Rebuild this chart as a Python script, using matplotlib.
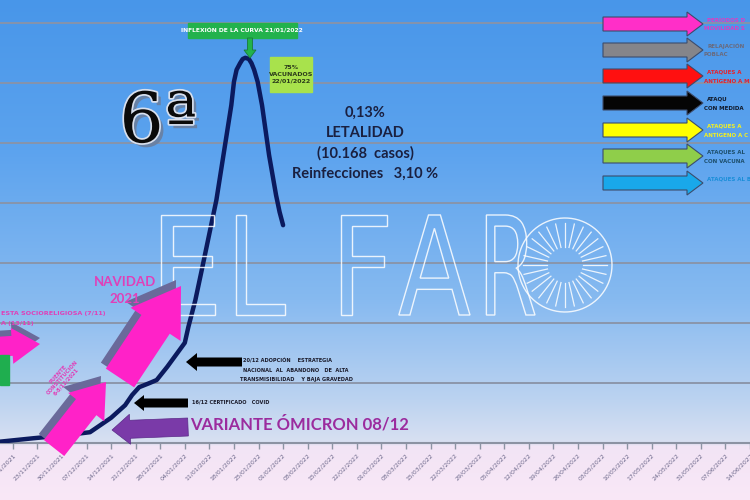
import datetime as dt
import numpy as np
import matplotlib
matplotlib.use('Agg')
import matplotlib.pyplot as plt
import matplotlib.dates as mdates
import matplotlib.patheffects as pe
from matplotlib.patches import Polygon, Rectangle, PathPatch
from matplotlib.textpath import TextPath
from matplotlib.font_manager import FontProperties
from matplotlib.path import Path

# Data -----------------------------------------------------------------
fechas = ['2021-11-12', '2021-11-22', '2021-12-01', '2021-12-08', '2021-12-11',
          '2021-12-14', '2021-12-18', '2021-12-20', '2021-12-22', '2021-12-25',
          '2021-12-27', '2021-12-30', '2022-01-01', '2022-01-04', '2022-01-05',
          '2022-01-07', '2022-01-09', '2022-01-13',
          '2022-01-17 06:00', '2022-01-18 00:00', '2022-01-18 18:00',
          '2022-01-19 18:00', '2022-01-20 12:00', '2022-01-21 06:00',
          '2022-01-22 06:00', '2022-01-23 00:00', '2022-01-23 18:00',
          '2022-01-24 18:00', '2022-01-26 00:00',
          '2022-01-28', '2022-01-30', '2022-01-31', '2022-02-01']
casos = [0.02, 0.08, 0.13, 0.18, 0.30, 0.42, 0.63, 0.80, 0.93, 1.00,
         1.05, 1.27, 1.43, 1.67, 1.93, 2.38, 2.93, 4.05,
         5.63, 6.02, 6.22, 6.33, 6.40, 6.42, 6.40, 6.33, 6.22, 6.02, 5.63,
         4.80, 4.13, 3.85, 3.63]

# weekly tick dates
primer_tick = dt.date(2021, 11, 16)
n_ticks = 31
tick_dates = [primer_tick + dt.timedelta(days=7 * k) for k in range(n_ticks)]

lineas_y = [1, 2, 3, 4, 5, 6, 7]

leyenda_colores = ['#ff2fc8', '#85858a', '#ff1010', '#050505', '#ffff00', '#8fce4a', '#19a8ea']
leyenda_txt_col = ['#e03cc0', '#6a6a7c', '#e8202a', '#101828', '#f4f020', '#1d4f6c', '#1a8ed8']
leyenda_textos = [('PERÍODOS D', 'MOVILIDAD S'), ('RELAJACIÓN', 'POBLAC'),
                  ('ATAQUES A', 'ANTÍGENO A M'), ('ATAQU', 'CON MEDIDA'),
                  ('ATAQUES A', 'ANTÍGENO A C'), ('ATAQUES AL', 'CON VACUNA'),
                  ('ATAQUES AL B', '')]

W, H = 750, 500
fig = plt.figure(figsize=(7.5, 5), dpi=100)


def fx(x):
    return x / W


def fy(y):
    return 1 - y / H


def pix(pts):
    return [(fx(x), fy(y)) for x, y in pts]


def block_arrow(tail, tip, bw, hw, hl):
    t = np.array(tail, float)
    p = np.array(tip, float)
    d = p - t
    u = d / np.hypot(*d)
    n = np.array([-u[1], u[0]])
    b = p - u * hl
    return [tuple(v) for v in (t + n * bw, b + n * bw, b + n * hw, p,
                                b - n * hw, b - n * bw, t - n * bw)]


def add_poly(pts, **kw):
    fig.add_artist(Polygon(pix(pts), closed=True, transform=fig.transFigure, **kw))


def ftext(x, y, s, **kw):
    fig.text(fx(x), fy(y), s, **kw)


# Background gradient ---------------------------------------------------
stops_y = [0, 150, 300, 400, 441, 446, 500]
stops_c = np.array([[72, 150, 233], [92, 163, 238], [135, 186, 240],
                    [188, 211, 240], [216, 224, 242], [242, 228, 245],
                    [249, 232, 247]]) / 255
yy = np.arange(H)
grad = np.stack([np.interp(yy, stops_y, stops_c[:, c]) for c in range(3)], axis=1)
bg = fig.add_axes([0, 0, 1, 1], zorder=-5)
bg.imshow(grad[:, None, :], aspect='auto', extent=[0, 1, 0, 1])
bg.axis('off')

# Main axes -------------------------------------------------------------
ax = fig.add_axes([0, 1 - 443 / H, 1, 443 / H])
ax.patch.set_alpha(0)
x0 = mdates.date2num(primer_tick) - 13 / 3.571
ax.set_xlim(x0, x0 + W / 3.571)
ax.set_ylim(0, 443 / 60)

for v in lineas_y:
    ax.axhline(v, color='#8a93a6', lw=1.3, zorder=0)

x_fechas = mdates.datestr2num(fechas)
ax.plot(x_fechas, casos, color='#0b1a5e', lw=3.2, solid_capstyle='round',
        solid_joinstyle='round', zorder=5)

ax.set_xticks(mdates.date2num(tick_dates))
ax.set_xticklabels([d.strftime('%d/%m/%Y') for d in tick_dates], rotation=45,
                   ha='right', va='top', rotation_mode='anchor',
                   fontsize=4.5, color='#6e6a8c')
ax.tick_params(axis='x', length=4, width=1, color='#8c93a3', pad=3)
ax.set_yticks([])
for s in ['top', 'left', 'right']:
    ax.spines[s].set_visible(False)
ax.spines['bottom'].set_color('#8c93a3')
ax.spines['bottom'].set_linewidth(1.5)

# Watermark "EL FARO" ---------------------------------------------------
fp = FontProperties(family='DejaVu Sans')
for ch, xa, xb in [('E', 150, 215), ('L', 225, 285), ('F', 330, 387),
                   ('A', 398, 470), ('R', 478, 535)]:
    tp = TextPath((0, 0), ch, size=1, prop=fp)
    v = tp.vertices.copy()
    xmin, ymin = v.min(axis=0)
    xmax, ymax = v.max(axis=0)
    v[:, 0] = xa + (v[:, 0] - xmin) / (xmax - xmin) * (xb - xa)
    v[:, 1] = 315 - (v[:, 1] - ymin) / (ymax - ymin) * 100
    fig.add_artist(PathPatch(Path(np.array(pix(v)), tp.codes), facecolor='none',
                             edgecolor='white', lw=1.0, alpha=0.85,
                             transform=fig.transFigure, zorder=3))
cx, cy, r = 565, 265, 47
fig.add_artist(Polygon(pix([(cx + r * np.cos(a), cy + r * np.sin(a))
                            for a in np.linspace(0, 2 * np.pi, 80)]),
                       closed=True, fill=False, ec='white', lw=1.0, alpha=0.85,
                       transform=fig.transFigure, zorder=3))
for a in np.linspace(0, 2 * np.pi, 28, endpoint=False):
    fig.add_artist(plt.Line2D([fx(cx + 18 * np.cos(a)), fx(cx + 42 * np.cos(a))],
                              [fy(cy + 18 * np.sin(a)), fy(cy + 42 * np.sin(a))],
                              color='white', lw=0.9, alpha=0.85,
                              transform=fig.transFigure, zorder=3))

# "6ª" ------------------------------------------------------------------
ftext(158, 123, '6ª', fontsize=50, family='DejaVu Serif', color='#0a0a0a',
      ha='center', va='center', zorder=6,
      path_effects=[pe.withSimplePatchShadow(offset=(3, -3), shadow_rgbFace='#6a7fa0', alpha=0.9),
                    pe.Stroke(linewidth=2.5, foreground='#d8e0ee'), pe.Normal()])

# Lethality block
ftext(365, 143, '0,13%\nLETALIDAD\n(10.168  casos)\nReinfecciones   3,10 %',
      fontsize=10.5, family='Lato', weight='bold', color='#1a2040',
      ha='center', va='center', linespacing=1.55, zorder=6)

# Inflexion box and arrow
fig.add_artist(Rectangle((fx(188), fy(38)), fx(109), 15 / H, color='#22b24c',
                         transform=fig.transFigure, zorder=6))
ftext(242, 30.5, 'INFLEXIÓN DE LA CURVA 21/01/2022', fontsize=4.3, color='white',
      weight='bold', ha='center', va='center', zorder=7)
add_poly(block_arrow((250, 38), (250, 58), 2.5, 6, 8), facecolor='#22b24c',
         edgecolor='#1a7a3a', lw=0.6, zorder=7)
fig.add_artist(Rectangle((fx(270), fy(92)), fx(42), 35 / H, color='#a8e24c',
                         transform=fig.transFigure, zorder=6))
ftext(291, 74.5, '75%\nVACUNADOS\n22/01/2022', fontsize=4.5, color='#2a3a1a',
      weight='bold', ha='center', va='center', linespacing=1.4, zorder=7)

# Legend arrows on the right
for k, (col, tcol, (l1, l2)) in enumerate(zip(leyenda_colores, leyenda_txt_col, leyenda_textos)):
    yc = [24, 50, 76, 103, 130, 156, 183][k]
    add_poly(block_arrow((603, yc), (703, yc), 7, 12, 16), facecolor=col,
             edgecolor='#3c4c6c', lw=0.8, zorder=6)
    ftext(707, yc - 4, l1, fontsize=4.0, color=tcol, weight='bold', ha='left',
          va='center', zorder=7)
    if l2:
        ftext(704, yc + 5, l2, fontsize=4.0, color=tcol, weight='bold', ha='left',
              va='center', zorder=7)

# Pink 3D arrows ---------------------------------------------------------
def pink_arrow(tail, tip, bw, hw, hl, off=(-5, -6)):
    pts = block_arrow(tail, tip, bw, hw, hl)
    add_poly([(x + off[0], y + off[1]) for x, y in pts], facecolor='#6a6a9a',
             edgecolor='none', zorder=6)
    add_poly(pts, facecolor='#ff22c8', edgecolor='none', zorder=6)


pink_arrow((120, 378), (181, 286), 17, 30, 46)
pink_arrow((54, 448), (106, 382), 13, 23, 32)
pink_arrow((-20, 348), (40, 344), 10, 18, 28, off=(0, -6))

ftext(125, 282, 'NAVIDAD', fontsize=9.5, family='Lato', weight='bold',
      color='#e040b8', ha='center', va='center', zorder=7)
ftext(125, 299, '2021', fontsize=9.5, family='Lato', weight='bold',
      color='#e040b8', ha='center', va='center', zorder=7)
ftext(62, 378, 'PUENTE\nCONSTITUCIÓN\n6-8/12/2021', fontsize=3.8, weight='bold',
      color='#e040b8', ha='center', va='center', rotation=48, linespacing=1.1, zorder=7)
ftext(1, 314, 'ESTA SOCIORELIGIOSA (7/11)', fontsize=4.6, weight='bold',
      color='#e040b8', ha='left', va='center', zorder=7)
ftext(1, 323, 'A (13/11)', fontsize=4.6, weight='bold',
      color='#e040b8', ha='left', va='center', zorder=7)
fig.add_artist(Rectangle((0, fy(385)), fx(9), 30 / H, color='#1fae4f',
                         transform=fig.transFigure, zorder=6))

# Black arrows -----------------------------------------------------------
add_poly(block_arrow((242, 362), (186, 362), 4.5, 9, 11), facecolor='black', zorder=6)
ftext(243, 361, '20/12 ADOPCIÓN    ESTRATEGIA', fontsize=3.6, weight='bold',
      color='#1a1a2a', ha='left', va='center', zorder=7)
ftext(243, 370, 'NACIONAL  AL  ABANDONO   DE  ALTA', fontsize=3.6, weight='bold',
      color='#1a1a2a', ha='left', va='center', zorder=7)
ftext(240, 379, 'TRANSMISIBILIDAD    Y BAJA GRAVEDAD', fontsize=3.6, weight='bold',
      color='#1a1a2a', ha='left', va='center', zorder=7)
add_poly(block_arrow((188, 403), (134, 403), 4.5, 8, 10), facecolor='black', zorder=6)
ftext(192, 402, '16/12 CERTIFICADO   COVID', fontsize=3.6, weight='bold',
      color='#1a1a2a', ha='left', va='center', zorder=7)

# Omicron arrow
add_poly(block_arrow((188, 427), (112, 430), 9, 15, 18), facecolor='#7a3aa8',
         edgecolor='#5a2a88', lw=0.5, zorder=6)
ftext(190, 424, 'VARIANTE ÓMICRON 08/12', fontsize=12, family='Lato', weight='bold',
      color='#9b2b9e', ha='left', va='center', zorder=7)

fig.savefig('out.png', dpi=100)
